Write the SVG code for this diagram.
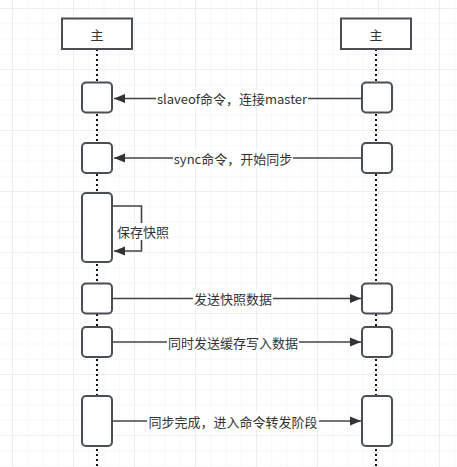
<svg xmlns="http://www.w3.org/2000/svg" width="457" height="467" viewBox="0 0 457 467">
<defs>
<pattern id="minor" x="12" y="8" width="15.25" height="15.25" patternUnits="userSpaceOnUse">
<path d="M0 0H15.25M0 0V15.25" fill="none" stroke="#f0f0f0" stroke-width="1"/>
</pattern>
<pattern id="major" x="12" y="8" width="61" height="61" patternUnits="userSpaceOnUse">
<path d="M0 0H61M0 0V61" fill="none" stroke="#e6e6e6" stroke-width="1"/>
</pattern>
<marker id="ah" markerWidth="12" markerHeight="10" refX="11" refY="5" orient="auto" markerUnits="userSpaceOnUse">
<path d="M0 0.5L11 5L0 9.5Z" fill="#333"/>
</marker>
<style>
.box{fill:#fff;stroke:#4a4f55;stroke-width:2}
.life{stroke:#111;stroke-width:2;stroke-dasharray:2 3;fill:none}
.msg{stroke:#444;stroke-width:1.6;fill:none;marker-end:url(#ah)}
.lbl{font-family:"Noto Sans CJK SC","Liberation Sans",sans-serif;font-size:13px;fill:#333;text-anchor:middle;dominant-baseline:central}
.lblbg{fill:#fff}
</style>
</defs>
<rect width="457" height="467" fill="#fff"/>
<rect width="457" height="467" fill="url(#minor)"/>
<rect width="457" height="467" fill="url(#major)"/>

<g id="lifelines">
<line class="life" x1="97" y1="49" x2="97" y2="467"/>
<line class="life" x1="376" y1="49" x2="376" y2="467"/>
</g>

<g id="head-left"><rect class="box" x="62" y="18.5" width="70" height="30.5"/><text class="lbl" x="97" y="34">主</text></g>
<g id="head-right"><rect class="box" x="341" y="18.5" width="70" height="30.5"/><text class="lbl" x="376" y="34">主</text></g>

<g id="act-l1"><rect class="box" x="82" y="82.5" width="30" height="30" rx="4"/></g>
<g id="act-r1"><rect class="box" x="362" y="82.5" width="30" height="30" rx="4"/></g>
<g id="act-l2"><rect class="box" x="82" y="143" width="30" height="30" rx="4"/></g>
<g id="act-r2"><rect class="box" x="362" y="143" width="30" height="30" rx="4"/></g>
<g id="act-l3"><rect class="box" x="82" y="193" width="30" height="69" rx="4"/></g>
<g id="act-l4"><rect class="box" x="82" y="283.5" width="30" height="30" rx="4"/></g>
<g id="act-r4"><rect class="box" x="362" y="283.5" width="30" height="30" rx="4"/></g>
<g id="act-l5"><rect class="box" x="82" y="327" width="30" height="30" rx="4"/></g>
<g id="act-r5"><rect class="box" x="362" y="327" width="30" height="30" rx="4"/></g>
<g id="act-l6"><rect class="box" x="82" y="396" width="30" height="50" rx="4"/></g>
<g id="act-r6"><rect class="box" x="362" y="396" width="30" height="50" rx="4"/></g>

<g id="connectors">
<line class="msg" x1="362" y1="98.5" x2="114" y2="98.5"/>
<rect class="lblbg" x="156" y="90" width="152" height="17"/>
<text class="lbl" x="232" y="98.5">slaveof命令，连接master</text>

<line class="msg" x1="362" y1="158" x2="114" y2="158"/>
<rect class="lblbg" x="173" y="149.5" width="120" height="17"/>
<text class="lbl" x="233" y="158">sync命令，开始同步</text>

<path class="msg" d="M112 206H141.5V251H114"/>
<rect class="lblbg" x="116" y="223" width="54" height="17"/>
<text class="lbl" x="143" y="231.5">保存快照</text>

<line class="msg" x1="112" y1="298.5" x2="361" y2="298.5"/>
<rect class="lblbg" x="193" y="290" width="80" height="17"/>
<text class="lbl" x="233" y="298.5">发送快照数据</text>

<line class="msg" x1="112" y1="342" x2="361" y2="342"/>
<rect class="lblbg" x="167" y="333.5" width="132" height="17"/>
<text class="lbl" x="233" y="342">同时发送缓存写入数据</text>

<line class="msg" x1="112" y1="421" x2="361" y2="421"/>
<rect class="lblbg" x="147" y="412.5" width="172" height="17"/>
<text class="lbl" x="233" y="421">同步完成，进入命令转发阶段</text>
</g>
</svg>
